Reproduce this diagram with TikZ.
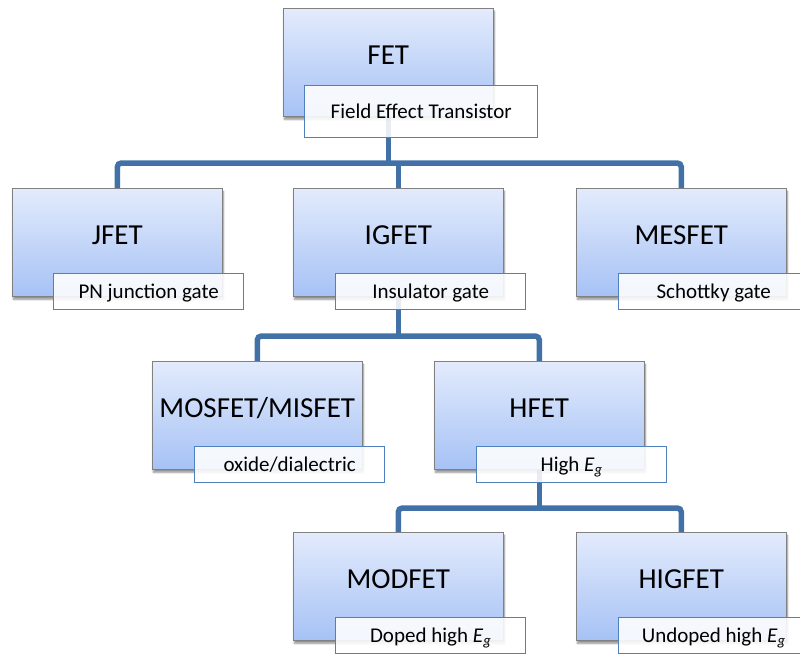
\documentclass[tikz,border=0pt]{standalone}
\usepackage{fontspec}
\setmainfont{Carlito}
\usetikzlibrary{shadows.blur}
\definecolor{connblue}{RGB}{66,113,168}
\definecolor{boxtop}{RGB}{227,235,252}
\definecolor{boxbot}{RGB}{166,194,245}
\definecolor{boxedge}{RGB}{128,128,128}
\definecolor{lbledge}{RGB}{79,129,189}
\pgfdeclarelayer{background}
\pgfsetlayers{background,main}
\tikzset{
  fetbox/.style={rectangle, anchor=north west, minimum width=210pt, minimum height=108pt,
    inner sep=0pt, draw=boxedge, line width=0.6pt, top color=boxtop, bottom color=boxbot,
    font=\fontsize{29}{34}\selectfont, text height=11.4pt, text depth=8pt,
    blur shadow={shadow xshift=1pt, shadow yshift=-3pt, shadow blur steps=6, shadow opacity=45}},
  lblbox/.style={rectangle, anchor=north west, minimum width=190pt, minimum height=36pt,
    inner sep=0pt, draw=lbledge, line width=1.4pt, fill=white, fill opacity=0.88, text opacity=1,
    font=\fontsize{21}{25}\selectfont, text height=13.2pt, text depth=0pt},
  connline/.style={draw=connblue, line width=5.5pt, rounded corners=4pt}
}
\begin{document}
\begin{tikzpicture}[x=1pt,y=-1pt]
\useasboundingbox (0,0) rectangle (800,653);
\coordinate (bus1) at (0,163);
\coordinate (bus2) at (0,336);
\coordinate (bus3) at (0,508);

\node[fetbox] (fet) at (283,8) {FET};
\node[lblbox, minimum width=233pt, minimum height=52pt] (fetL) at (304,85) {Field Effect Transistor};
\node[fetbox] (jfet) at (12,188) {JFET};
\node[lblbox] (jfetL) at (53,273) {PN junction gate};
\node[fetbox] (igfet) at (293,188) {IGFET};
\node[lblbox] (igfetL) at (335,273) {Insulator gate};
\node[fetbox] (mesfet) at (576,188) {MESFET};
\node[lblbox] (mesfetL) at (618,273) {Schottky gate};
\node[fetbox] (mosfet) at (152,361) {MOSFET/MISFET};
\node[lblbox] (mosfetL) at (194,446) {oxide/dialectric};
\node[fetbox] (hfet) at (434,361) {HFET};
\node[lblbox] (hfetL) at (476,446) {High \textit{E}\textsubscript{\textit{g}}};
\node[fetbox] (modfet) at (293,532) {MODFET};
\node[lblbox] (modfetL) at (335,617) {Doped high \textit{E}\textsubscript{\textit{g}}};
\node[fetbox] (higfet) at (576,532) {HIGFET};
\node[lblbox] (higfetL) at (618,617) {Undoped high \textit{E}\textsubscript{\textit{g}}};

\begin{pgfonlayer}{background}
\draw[connline] (fet.center) -- (fet.center |- bus1);
\draw[connline] (jfet.center) |- (igfet.center |- bus1) -| (mesfet.center);
\draw[connline] (igfet.center |- bus1) -- (igfet.center);
\draw[connline] (igfet.center) -- (igfet.center |- bus2);
\draw[connline] (mosfet.center) |- (hfet.center |- bus2) -- (hfet.center);
\draw[connline] (hfet.center) -- (hfet.center |- bus3);
\draw[connline] (modfet.center) |- (higfet.center |- bus3) -- (higfet.center);
\end{pgfonlayer}
\end{tikzpicture}
\end{document}
